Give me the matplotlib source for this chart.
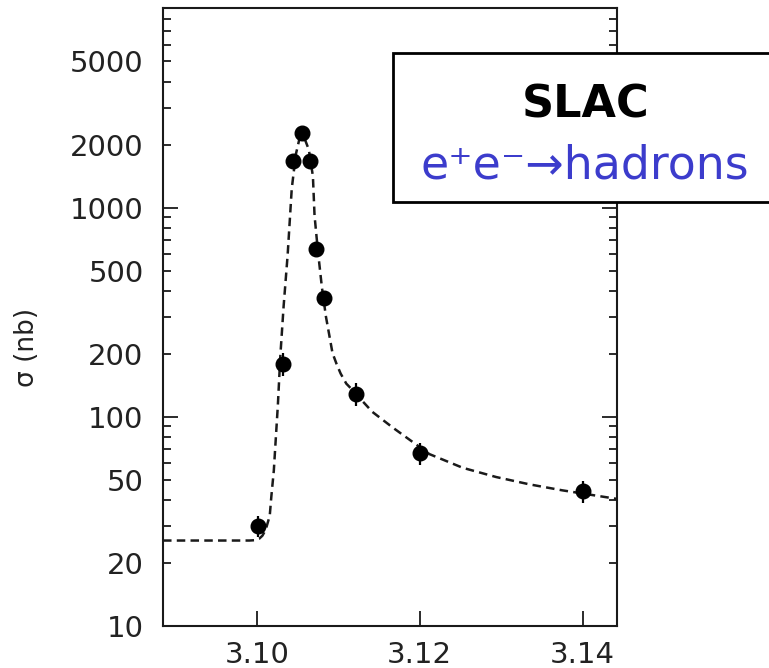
import matplotlib
matplotlib.use('Agg')
import matplotlib.pyplot as plt
from matplotlib.patches import Rectangle

# measured cross sections (GeV, nb)
energy = [3.1002, 3.1032, 3.1044, 3.1056, 3.1065, 3.1073, 3.1083, 3.1122, 3.1201, 3.1400]
sigma = [30, 179, 1675, 2266, 1675, 633, 371, 129, 67, 44]
sigma_err = [3.5, 22, 80, 110, 80, 40, 30, 16, 8, 5.5]

# fitted resonance curve
fit_energy = [3.0885, 3.0991, 3.0998, 3.1003, 3.1007, 3.1011, 3.1016, 3.1018, 3.1021,
              3.1023, 3.1026, 3.1029, 3.1033, 3.1038, 3.1043, 3.1048, 3.1053, 3.1058,
              3.1064, 3.1069, 3.1071, 3.1075, 3.1080, 3.1085, 3.1090, 3.1093, 3.1098,
              3.1103, 3.1110, 3.1117, 3.1123, 3.1142, 3.1167, 3.1212, 3.1253, 3.1294,
              3.1335, 3.1375, 3.1442]
fit_sigma = [25.6, 25.6, 25.7, 26.1, 27.0, 28.8, 33.6, 41.7, 55.2,
             73.9, 114, 195, 336, 595, 1228, 1793, 2178, 2178,
             1892, 1413, 917, 628, 417, 301, 235, 202, 179,
             161, 144, 135, 127, 105.5, 88.8, 66.3, 57, 51.5,
             47.5, 44.5, 40.5]

x_ticks = [3.10, 3.12, 3.14]
x_labels = ['3.10', '3.12', '3.14']
y_major = [10, 100, 1000]
y_major_labels = ['10', '100', '1000']
y_minor = [m * d for d in (10, 100, 1000) for m in range(2, 10)]
y_minor_labels = {20: '20', 50: '50', 200: '200', 500: '500', 2000: '2000', 5000: '5000'}

ink = '#1a1a1a'
s = 21

fig = plt.figure(figsize=(7.69, 6.68), dpi=100)
ax = fig.add_axes([0.212, 0.063, 0.590, 0.925])

ax.plot(fit_energy, fit_sigma, ls='--', dashes=(3.4, 2.1), lw=1.8, color=ink, zorder=2)
ax.errorbar(energy, sigma, yerr=sigma_err, fmt='o', ms=10.5, color='black',
            elinewidth=1.6, capsize=0, zorder=3)

ax.set_yscale('log')
ax.set_xlim(3.0885, 3.1442)
ax.set_ylim(10, 7900)

ax.set_xticks(x_ticks)
ax.set_xticklabels(x_labels)
ax.set_yticks(y_major)
ax.set_yticklabels(y_major_labels)
ax.set_yticks(y_minor, minor=True)
ax.set_yticklabels([y_minor_labels.get(v, '') for v in y_minor], minor=True)
ax.xaxis.set_minor_locator(matplotlib.ticker.NullLocator())

ax.tick_params(axis='both', which='both', direction='in', color=ink, width=1.3,
               labelsize=s, labelcolor='#222222')
ax.tick_params(axis='y', which='both', right=True, pad=14)
ax.tick_params(axis='y', which='major', length=11)
ax.tick_params(axis='y', which='minor', length=6)
ax.tick_params(axis='x', which='major', length=11, pad=11)
for sp in ax.spines.values():
    sp.set_linewidth(1.5)
    sp.set_color(ink)

fig.text(0.035, 0.48, 'σ (nb)', rotation=90, ha='center', va='center',
         size=19, color='#222222')

# label box, running off the right edge
box = Rectangle((393 / 769, 1 - 202 / 668), 0.6, 149 / 668, transform=fig.transFigure,
                facecolor='white', edgecolor='black', lw=2, zorder=10, clip_on=False)
fig.add_artist(box)
fig.text(586 / 769, 1 - 118 / 668, 'SLAC', ha='center', va='baseline', size=32,
         weight='bold', color='black', zorder=11)
fig.text(585 / 769, 1 - 178 / 668, 'e\u207ae\u207b\u2192hadrons', ha='center',
         va='baseline', size=33, color='#3c3ccc', zorder=11)

fig.savefig('out.png', dpi=100)
